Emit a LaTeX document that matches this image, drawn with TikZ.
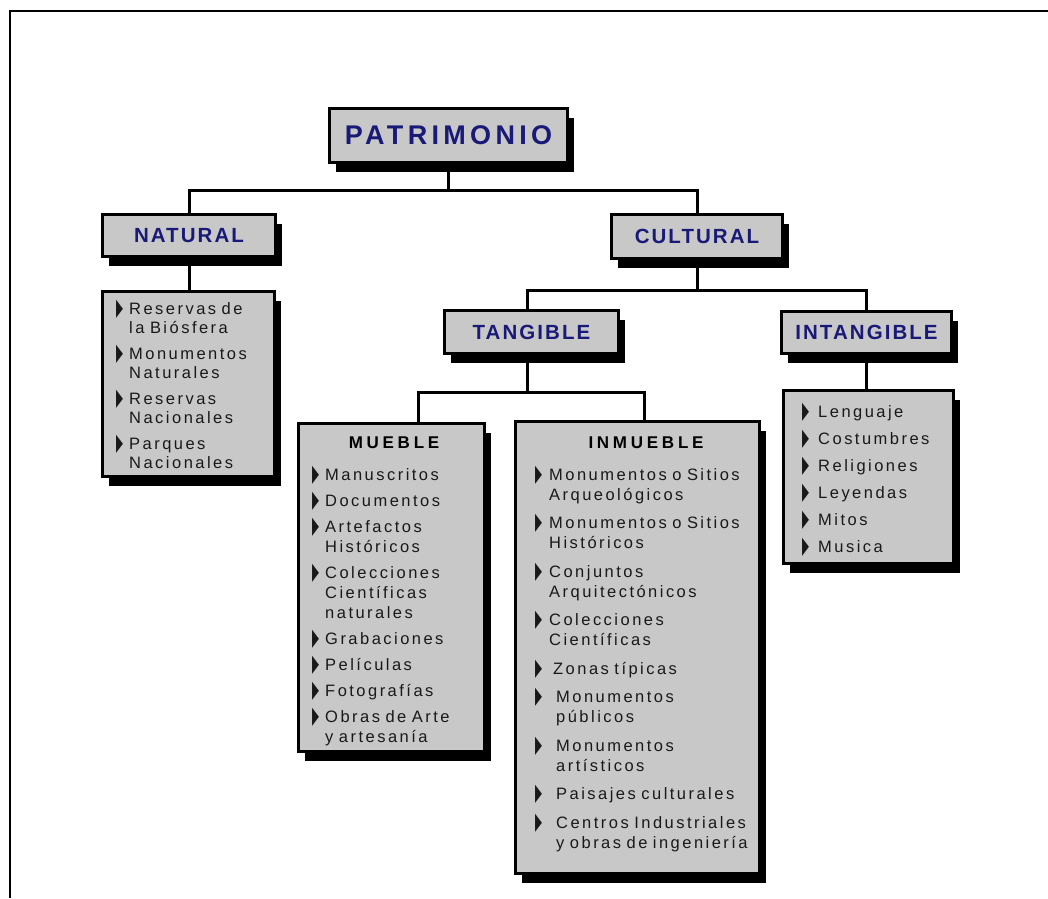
\documentclass[tikz,border=0pt]{standalone}
\usepackage{fontspec}
\usepackage{graphicx}
\setmainfont{Liberation Sans}
\newfontfamily\hdfont[LetterSpace=10]{Liberation Sans}
\newfontfamily\lstfont[LetterSpace=15]{Liberation Sans}
\newfontfamily\symfont{DejaVu Sans}
\usetikzlibrary{shadows,backgrounds}
\definecolor{boxgray}{RGB}{200,200,200}
\definecolor{navy}{RGB}{25,25,120}
\newlength{\itmind}
\setlength{\itmind}{14pt}
\newcommand{\bul}{\raisebox{-1pt}{\scalebox{0.55}[1.45]{\symfont ▶}}}
\newcommand{\itm}[2][\itmind]{\hangindent=#1\hangafter=1\noindent\makebox[#1][l]{\bul}#2\par}

\begin{document}
\begin{tikzpicture}[
x=1pt,
y=1pt,
box/.style={
  draw,
  line width=3pt,
  fill=boxgray,
  inner sep=0pt,
  drop shadow={shadow xshift=6pt, shadow yshift=-9pt, fill=black, opacity=1}
  },
head/.style={
  box,
  text=navy,
  font=\hdfont\bfseries\fontsize{20.5}{24}\selectfont
  },
title/.style={
  inner sep=0pt,
  font=\hdfont\bfseries\addfontfeature{LetterSpace=22}\fontsize{17}{20}\selectfont
  },
lst/.style={
  anchor=base west,
  inner sep=0pt,
  align=left,
  text=black!90,
  font=\lstfont\fontsize{16.5}{20}\selectfont
  },
conn/.style={
  line width=3pt
  }
]
\useasboundingbox (0,0) rectangle (1048,-898);
\draw[line width=2pt] (10,-898) -- (10,-11) -- (1048,-11);

\node[head, minimum width=238pt, minimum height=54pt, font=\hdfont\bfseries\addfontfeature{LetterSpace=16}\fontsize{27}{30}\selectfont] (patri) at (448.5,-135.5) {PATRIMONIO};
\node[head, minimum width=173pt, minimum height=42pt] (natural) at (189,-235.5) {NATURAL};
\node[head, minimum width=171pt, minimum height=44pt] (cultural) at (697,-236.5) {CULTURAL};
\node[head, minimum width=174pt, minimum height=43pt] (tangible) at (531.5,-332) {TANGIBLE};
\node[head, minimum width=170pt, minimum height=42pt] (intang) at (866.5,-332.5) {INTANGIBLE};

\node[box, minimum width=172pt, minimum height=185pt] (natbox) at (188.5,-384) {};
\node[box, minimum width=186pt, minimum height=328pt] (mueble) at (391.5,-587.5) {};
\node[box, minimum width=244pt, minimum height=452pt] (inmueble) at (637.5,-647.5) {};
\node[box, minimum width=170pt, minimum height=173pt] (intbox) at (868.5,-477) {};

\node[title] (muebletit) at (394,-442.5) {MUEBLE};
\node[title] (inmuebletit) at (646,-442.5) {INMUEBLE};

\node[lst, text width=160pt, font=\lstfont\fontsize{16.5}{19.5}\selectfont] (natlist) at (116,-314) {\setlength{\parskip}{6pt}%
\itm[13pt]{Reservas de\newline la Biósfera}
\itm[13pt]{Monumentos\newline Naturales}
\itm[13pt]{Reservas\newline Nacionales}
\itm[13pt]{Parques\newline Nacionales}};
\node[lst, text width=170pt] (mueblelist) at (312,-480) {\setlength{\parskip}{6pt}%
\itm[13pt]{Manuscritos}
\itm[13pt]{Documentos}
\itm[13pt]{Artefactos\newline Históricos}
\itm[13pt]{Colecciones\newline Científicas\newline naturales}
\itm[13pt]{Grabaciones}
\itm[13pt]{Películas}
\itm[13pt]{Fotografías}
\itm[13pt]{Obras de Arte\newline y artesanía}};
\node[lst, text width=222pt] (inmueblelist) at (535,-480) {\setlength{\parskip}{8.5pt}%
\itm{Monumentos o Sitios\newline Arqueológicos}
\itm{Monumentos o Sitios\newline Históricos}
\itm{Conjuntos\newline Arquitectónicos}
\itm{Colecciones\newline Científicas}
\itm[18pt]{Zonas típicas}
\itm[21pt]{Monumentos\newline públicos}
\itm[21pt]{Monumentos\newline artísticos}
\itm[21pt]{Paisajes culturales}
\itm[21pt]{Centros Industriales\newline y obras de ingeniería}};
\node[lst, text width=150pt] (intlist) at (802,-417) {\setlength{\parskip}{7pt}%
\itm[16pt]{Lenguaje}
\itm[16pt]{Costumbres}
\itm[16pt]{Religiones}
\itm[16pt]{Leyendas}
\itm[16pt]{Mitos}
\itm[16pt]{Musica}};

\coordinate (pbus) at (448.5,-190);
\coordinate (cbus) at (696,-290);
\coordinate (tbus) at (527,-392);
\coordinate (mstem) at (418,-392);
\coordinate (istem) at (644,-392);
\begin{scope}[on background layer]
\draw[conn] (patri.south) -- (pbus);
\draw[conn] (natural.north) |- (pbus) -| (cultural.north);
\draw[conn] (cultural.south) -- (cultural.south |- cbus);
\draw[conn] (tbus |- tangible.north) |- (cbus) -| (intang.north);
\draw[conn] (tbus |- tangible.south) -- (tbus);
\draw[conn] (mstem |- mueble.north) -- (mstem) -- (istem) -- (istem |- inmueble.north);
\draw[conn] (natural.south) -- (natural.south |- natbox.north);
\draw[conn] (intang.south) -- (intang.south |- intbox.north);
\end{scope}
\end{tikzpicture}
\end{document}
